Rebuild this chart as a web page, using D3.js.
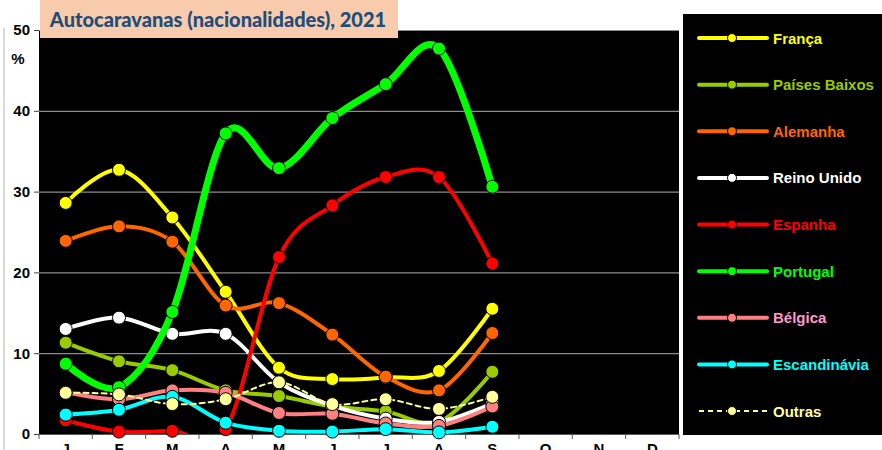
<!DOCTYPE html>
<html>
<head>
<meta charset="utf-8">
<script src="https://cdn.jsdelivr.net/npm/d3@7"></script>
<style>
  body { margin: 0; background: #fff; }
  svg { display: block; }
</style>
</head>
<body>
<div id="chart"></div>
<script>
// data (percent of overnight stays, 2021)
const months = ["J", "F", "M", "A", "M", "J", "J", "A", "S", "O", "N", "D"];
const yTicks = [0, 10, 20, 30, 40, 50];

const franca       = [28.6, 32.7, 26.8, 17.6, 8.2, 6.8, 7.0, 7.8, 15.5];
const paisesBaixos = [11.3, 9.0, 7.9, 5.4, 4.7, 3.4, 2.8, 1.5, 7.7];
const alemanha     = [23.9, 25.7, 23.8, 15.9, 16.2, 12.3, 7.1, 5.4, 12.5];
const reinoUnido   = [13.0, 14.4, 12.4, 12.4, 6.4, 3.5, 1.9, 1.5, 3.8];
const espanha      = [1.7, 0.3, 0.4, 0.6, 21.9, 28.3, 31.8, 31.8, 21.1];
const portugal     = [8.7, 5.8, 15.1, 37.2, 32.9, 39.1, 43.3, 47.7, 30.6];
const belgica      = [5.2, 4.3, 5.4, 5.1, 2.6, 2.5, 1.3, 1.0, 3.4];
const escandinavia = [2.4, 3.0, 4.6, 1.4, 0.4, 0.3, 0.6, 0.2, 0.9];
const outras       = [5.1, 4.9, 3.7, 4.3, 6.4, 3.7, 4.3, 3.1, 4.6];

const series = [
  { name: "França",        values: franca,       color: "#FFFF00", text: "#FFFF00", width: 4 },
  { name: "Países Baixos", values: paisesBaixos, color: "#99CC00", text: "#99CC00", width: 4 },
  { name: "Alemanha",      values: alemanha,     color: "#FF6600", text: "#FF6600", width: 4 },
  { name: "Reino Unido",   values: reinoUnido,   color: "#FFFFFF", text: "#FFFFFF", width: 4 },
  { name: "Espanha",       values: espanha,      color: "#FF0000", text: "#FF0000", width: 4 },
  { name: "Portugal",      values: portugal,     color: "#00FF00", text: "#00FF00", width: 7 },
  { name: "Bélgica",       values: belgica,      color: "#FF8080", text: "#FF99CC", width: 4 },
  { name: "Escandinávia",  values: escandinavia, color: "#00FFFF", text: "#00FFFF", width: 4 },
  { name: "Outras",        values: outras,       color: "#FFFF99", text: "#FFFF99", width: 2, dash: "5,4" }
];

const W = 882, H = 450;
const plot = { left: 39, right: 679, top: 30, bottom: 434 };
const narrow = "'Liberation Sans Narrow', 'Arial Narrow', 'Liberation Sans', Arial, sans-serif";

const svg = d3.select("#chart").append("svg")
  .attr("width", W)
  .attr("height", H);

// faint frame on the left edge
svg.append("line")
  .attr("x1", 4).attr("x2", 4).attr("y1", 28).attr("y2", H)
  .attr("stroke", "#d9d9d9").attr("stroke-width", 2);

const x = d3.scaleBand().domain(d3.range(months.length)).range([plot.left, plot.right]);
const y = d3.scaleLinear().domain([0, 50]).range([plot.bottom, plot.top]);
const cx = i => x(i) + x.bandwidth() / 2;

svg.append("rect")
  .attr("x", plot.left).attr("y", plot.top)
  .attr("width", plot.right - plot.left).attr("height", plot.bottom - plot.top)
  .attr("fill", "#000");

// gridlines
svg.append("g")
  .attr("transform", "translate(" + plot.left + ",0)")
  .call(d3.axisLeft(y).tickValues(yTicks.slice(1)).tickSize(-(plot.right - plot.left)).tickFormat(""))
  .call(g => g.select(".domain").remove())
  .call(g => g.selectAll("line").attr("stroke", "#8c8c8c").attr("stroke-width", 1.2));

// y axis
svg.append("g")
  .attr("transform", "translate(" + plot.left + ",0)")
  .call(d3.axisLeft(y).tickValues(yTicks).tickSize(5).tickPadding(4))
  .call(g => g.select(".domain").remove())
  .call(g => g.selectAll("line").attr("stroke", "#404040"))
  .call(g => g.selectAll("text")
    .attr("font-family", narrow)
    .attr("font-weight", "bold")
    .attr("font-size", 15)
    .attr("fill", "#000"));

svg.append("text")
  .attr("x", 18).attr("y", 64)
  .attr("text-anchor", "middle")
  .attr("font-family", narrow)
  .attr("font-weight", "bold")
  .attr("font-size", 15)
  .text("%");

// x axis: ticks at category boundaries, labels centred
const boundaries = d3.range(months.length + 1).map(i => plot.left + i * x.bandwidth());
svg.append("g").selectAll("line")
  .data(boundaries)
  .enter().append("line")
  .attr("x1", d => d).attr("x2", d => d)
  .attr("y1", plot.bottom).attr("y2", plot.bottom + 5)
  .attr("stroke", "#595959");

svg.append("line")
  .attr("x1", plot.left).attr("x2", plot.right)
  .attr("y1", plot.bottom + 0.5).attr("y2", plot.bottom + 0.5)
  .attr("stroke", "#595959");

svg.append("g").selectAll("text")
  .data(months)
  .enter().append("text")
  .attr("x", (d, i) => cx(i))
  .attr("y", 454)
  .attr("text-anchor", "middle")
  .attr("font-family", "'Liberation Sans', Arial, sans-serif")
  .attr("font-weight", "bold")
  .attr("font-size", 15)
  .text(d => d);

// lines
const line = d3.line()
  .x((d, i) => cx(i))
  .y(d => y(d))
  .curve(d3.curveCardinal.tension(0));

svg.append("clipPath").attr("id", "plotclip")
  .append("rect")
  .attr("x", plot.left).attr("y", plot.top - 10)
  .attr("width", plot.right - plot.left).attr("height", plot.bottom - plot.top + 10);

const seriesG = svg.append("g");
series.forEach(s => {
  const g = seriesG.append("g");
  g.append("path")
    .attr("d", line(s.values))
    .attr("fill", "none")
    .attr("stroke", s.color)
    .attr("stroke-width", s.width)
    .attr("stroke-linecap", "round")
    .attr("stroke-dasharray", s.dash || null)
    .attr("clip-path", "url(#plotclip)");
  g.selectAll("circle")
    .data(s.values)
    .enter().append("circle")
    .attr("cx", (d, i) => cx(i))
    .attr("cy", d => y(d))
    .attr("r", 6.5)
    .attr("fill", s.color)
    .attr("stroke", "#000")
    .attr("stroke-width", 1);
});

// title box
svg.append("rect")
  .attr("x", 40).attr("y", 0)
  .attr("width", 358).attr("height", 38)
  .attr("fill", "#F8CBAD");
svg.append("text")
  .attr("x", 218).attr("y", 27)
  .attr("text-anchor", "middle")
  .attr("font-family", "Lato, 'Open Sans', sans-serif")
  .attr("font-weight", 900)
  .attr("font-size", 20)
  .attr("fill", "#1F4E79")
  .text("Autocaravanas (nacionalidades), 2021");

// legend
const legend = svg.append("g");
legend.append("rect")
  .attr("x", 683).attr("y", 14)
  .attr("width", 199).attr("height", 421)
  .attr("fill", "#000");

const legendY = d3.scalePoint().domain(series.map(s => s.name)).range([38, 411]);
const items = legend.selectAll("g.item")
  .data(series)
  .enter().append("g")
  .attr("class", "item")
  .attr("transform", d => "translate(0," + legendY(d.name) + ")");

items.append("line")
  .attr("x1", 699).attr("x2", 767)
  .attr("stroke", d => d.color)
  .attr("stroke-width", d => d.dash ? 2 : 4)
  .attr("stroke-linecap", d => d.dash ? "butt" : "round")
  .attr("stroke-dasharray", d => d.dash ? "5,4" : null);
items.append("circle")
  .attr("cx", 732).attr("r", 4.5)
  .attr("fill", d => d.color)
  .attr("stroke", "#000");
items.append("text")
  .attr("x", 773).attr("y", 5.5)
  .attr("font-family", narrow)
  .attr("font-weight", "bold")
  .attr("font-size", 15)
  .attr("fill", d => d.text)
  .text(d => d.name);
</script>
</body>
</html>
